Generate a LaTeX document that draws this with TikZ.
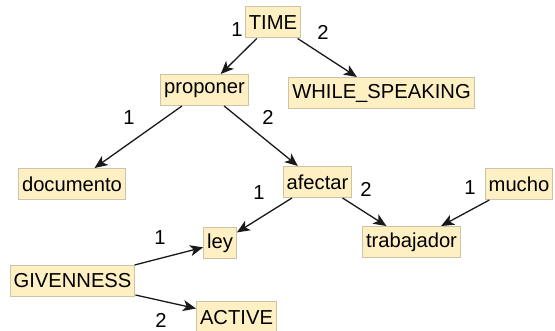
\documentclass[tikz,border=0pt]{standalone}
\usepackage{fontspec}
\setmainfont{Liberation Sans}
\usetikzlibrary{arrows.meta}
\definecolor{boxfill}{RGB}{255,240,196}
\definecolor{boxdraw}{RGB}{205,195,165}
\definecolor{edgecol}{RGB}{25,25,25}
\tikzset{
  concept/.style={draw=boxdraw, fill=boxfill, line width=1pt, inner xsep=3.5pt, inner ysep=0pt,
    minimum height=31pt, font=\fontsize{20.2}{24}\selectfont, text=black},
  lbl/.style={inner sep=0pt, font=\fontsize{20.2}{24}\selectfont, text=black},
  rel/.style={draw=edgecol, line width=1.3pt, -{Stealth[length=13pt, width=11pt, inset=3.5pt]}}
}
\begin{document}
\begin{tikzpicture}[x=1pt, y=-1pt]
\useasboundingbox (0,0) rectangle (555,331);
\node[concept] (time) at (273,22.5) {TIME};
\node[concept] (proponer) at (204.5,90) {proponer};
\node[concept] (while) at (381.5,93) {WHILE\_SPEAKING};
\node[concept] (documento) at (72,184) {documento};
\node[concept] (afectar) at (317.5,182) {afectar};
\node[concept] (mucho) at (519,184) {mucho};
\node[concept] (trabajador) at (411.5,242) {trabajador};
\node[concept] (ley) at (220,243) {ley};
\node[concept] (givenness) at (72.5,281) {GIVENNESS};
\node[concept] (active) at (236.5,317.5) {ACTIVE};

\draw[rel] (time) -- (proponer);
\draw[rel] (time) -- (while);
\draw[rel] (proponer) -- (documento);
\draw[rel] (proponer) -- (afectar);
\draw[rel] (afectar) -- (ley);
\draw[rel] (afectar) -- (trabajador);
\draw[rel] (mucho) -- (trabajador);
\draw[rel] (givenness) -- (ley);
\draw[rel] (givenness) -- (active);

\node[lbl] (l1) at (237,30) {1};
\node[lbl] (l2) at (323,32) {2};
\node[lbl] (l3) at (129,118) {1};
\node[lbl] (l4) at (268,117) {2};
\node[lbl] (l5) at (259,193) {1};
\node[lbl] (l6) at (366,189) {2};
\node[lbl] (l7) at (470,188) {1};
\node[lbl] (l8) at (160,238) {1};
\node[lbl] (l9) at (161,320.5) {2};
\end{tikzpicture}
\end{document}
